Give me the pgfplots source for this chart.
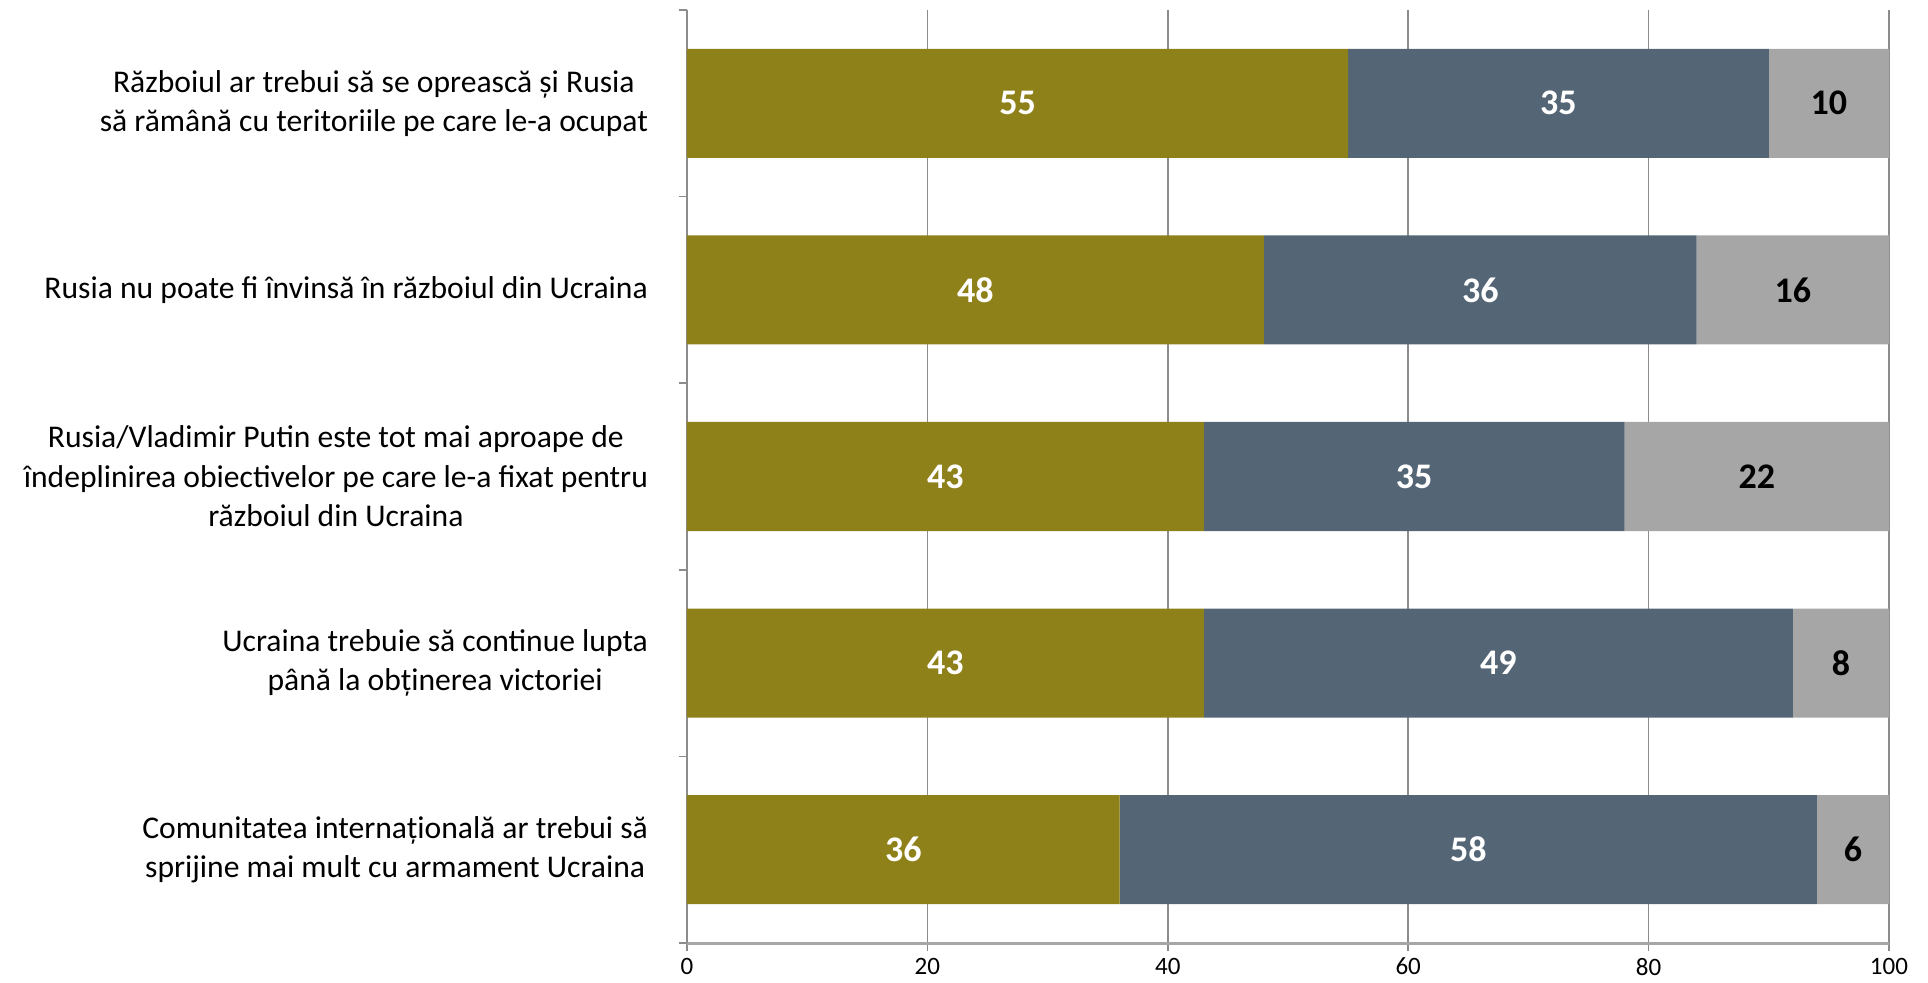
\documentclass[border=0pt]{standalone}
\usepackage{pgfplots}
\usepackage{pgfplotstable}
\pgfplotsset{compat=1.18}
\usepackage{fontspec}
\setmainfont{Carlito}
\definecolor{olivebar}{RGB}{143,129,26}
\definecolor{slatebar}{RGB}{84,101,117}
\definecolor{graybar}{RGB}{166,166,166}
\definecolor{gridc}{RGB}{140,140,140}

\pgfplotstableread{
cat a b c
0 55 35 10
1 48 36 16
2 43 35 22
3 43 49 8
4 36 58 6
}\data

\pgfplotsset{common/.style={scale only axis, width=601pt, height=466.5pt,
  xmin=0, xmax=100, ymin=-0.5, ymax=4.5, y dir=reverse}}

\begin{document}
\begin{tikzpicture}
\begin{axis}[name=ax, common,
  xbar stacked, bar width=54.5pt,
  axis x line*=bottom, axis y line*=left,
  x axis line style={line width=1.5pt, draw=graybar, -},
  y axis line style={line width=0.75pt, draw=gridc, -},
  xtick={0,20,40,60,80,100},
  xmajorgrids, grid style={gridc, line width=0.75pt},
  tick align=outside, major tick length=4pt,
  tick style={gridc, line width=0.75pt},
  xticklabel style={font=\fontsize{12.5}{14}\selectfont},
  /pgf/number format/assume math mode=true,
  ytick={-0.5,0.5,1.5,2.5,3.5,4.5}, yticklabels={},
  extra y ticks={0,1,2,3,4},
  extra y tick labels={
    {Războiul ar trebui să se oprească și Rusia\\ să rămână cu teritoriile pe care le-a ocupat},
    {Rusia nu poate fi învinsă în războiul din Ucraina},
    {Rusia/Vladimir Putin este tot mai aproape de\\ îndeplinirea obiectivelor pe care le-a fixat pentru\\ războiul din Ucraina},
    {Ucraina trebuie să continue lupta\\ până la obținerea victoriei},
    {Comunitatea internațională ar trebui să\\ sprijine mai mult cu armament Ucraina}},
  extra y tick style={major tick length=0pt,
    yticklabel style={align=center, anchor=east, xshift=-16pt,
      font=\fontsize{15.8}{19.7}\selectfont}},
]
\addplot[fill=olivebar, draw=none] table[x=a, y=cat] {\data};
\addplot[fill=slatebar, draw=none] table[x=b, y=cat] {\data};
\addplot[fill=graybar, draw=none] table[x=c, y=cat] {\data};
\end{axis}
\begin{axis}[common, hide axis,
  nodes near coords, point meta=explicit symbolic,
  every node near coord/.style={anchor=center, font=\bfseries\fontsize{18}{20}\selectfont}]
\addplot[draw=none, mark=none, every node near coord/.append style={text=white}]
  table[x expr=\thisrow{a}/2, y=cat, meta=a] {\data};
\addplot[draw=none, mark=none, every node near coord/.append style={text=white}]
  table[x expr=\thisrow{a}+\thisrow{b}/2, y=cat, meta=b] {\data};
\addplot[draw=none, mark=none, every node near coord/.append style={text=black}]
  table[x expr=\thisrow{a}+\thisrow{b}+\thisrow{c}/2, y=cat, meta=c] {\data};
\end{axis}
\path (ax.south west) ++(-343.5pt,-20pt) coordinate (bl);
\path (ax.north east) ++(19.5pt,5pt) coordinate (tr);
\pgfresetboundingbox
\path (bl) rectangle (tr);
\end{tikzpicture}
\end{document}
